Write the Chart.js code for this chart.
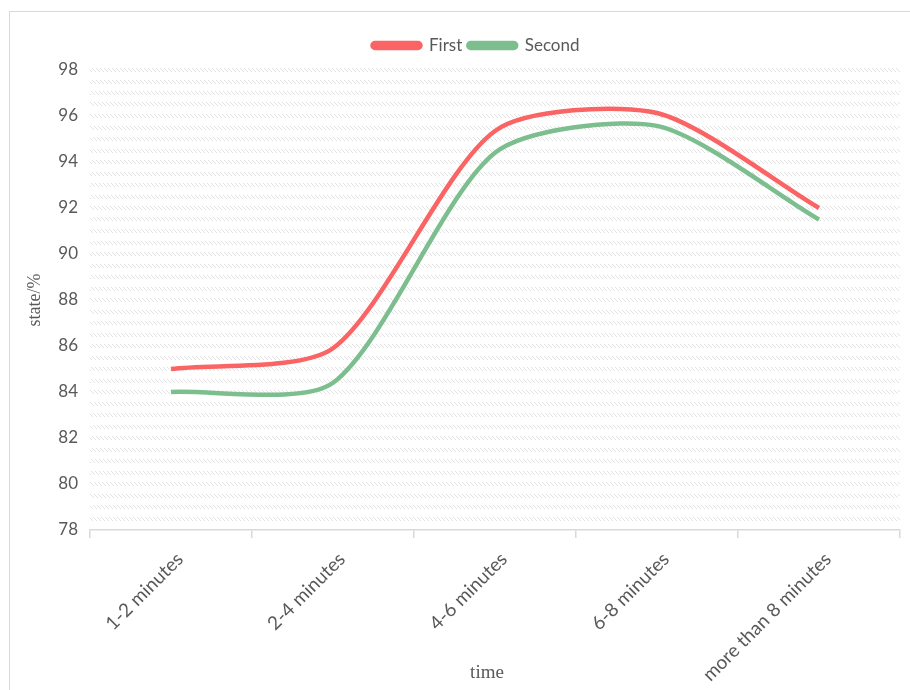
<!DOCTYPE html>
<html>
<head>
<meta charset="utf-8">
<script src="https://cdn.jsdelivr.net/npm/chart.js@4.4.1/dist/chart.umd.min.js"></script>
<style>
  html, body { margin: 0; padding: 0; background: #fff; }
  #frame { position: absolute; left: 9px; top: 11px; width: 920px; height: 700px;
           border: 1.5px solid #d9d9d9; box-sizing: border-box; }
  #c { position: absolute; left: 0; top: 0; }
</style>
</head>
<body>
<div id="frame"></div>
<canvas id="c" width="910" height="690"></canvas>
<script>
// Categories and series
const categories = ['1-2 minutes', '2-4 minutes', '4-6 minutes', '6-8 minutes', 'more than 8 minutes'];
const firstValues = [85.0, 85.9, 95.35, 96.13, 92.0];
const secondValues = [84.0, 84.4, 94.4, 95.57, 91.5];
const yTickLabels = [78, 80, 82, 84, 86, 88, 90, 92, 94, 96, 98];

const textColor = '#595959';
const lineGrey = '#d9d9d9';

// Diagonal hatch used for the horizontal grid bands
function hatchPattern() {
  const p = document.createElement('canvas');
  p.width = 4; p.height = 4;
  const g = p.getContext('2d');
  g.strokeStyle = '#e2e2e2';
  g.lineWidth = 1;
  g.beginPath();
  g.moveTo(-1, -1); g.lineTo(5, 5);
  g.moveTo(-1, 3); g.lineTo(1, 5);
  g.moveTo(3, -1); g.lineTo(5, 1);
  g.stroke();
  return g.createPattern(p, 'repeat');
}
const hatch = hatchPattern();

// Axis titles drawn at fixed spots around the plot
const axisTitlePlugin = {
  id: 'axisTitles',
  afterDraw(chart) {
    const ctx = chart.ctx;
    const area = chart.chartArea;
    ctx.save();
    ctx.font = '19px "Liberation Serif", serif';
    ctx.fillStyle = textColor;
    ctx.textAlign = 'center';
    ctx.textBaseline = 'middle';
    ctx.fillText('time', 487, 673);
    ctx.translate(35, (area.top + area.bottom) / 2);
    ctx.rotate(-Math.PI / 2);
    ctx.font = '18px "Liberation Serif", serif';
    ctx.fillText('state/%', 0, 0);
    ctx.restore();
  }
};

// Extra room between the legend and the plot
const legendGapPlugin = {
  id: 'legendGap',
  beforeInit(chart) {
    const fit = chart.legend.fit;
    chart.legend.fit = function () {
      fit.call(this);
      this.height += 6;
    };
  }
};

new Chart(document.getElementById('c'), {
  type: 'line',
  data: {
    labels: categories,
    datasets: [
      { label: 'First', data: firstValues, borderColor: 'rgb(250,100,100)', backgroundColor: 'rgb(250,100,100)',
        borderWidth: 4.5, tension: 0.25, pointRadius: 0, fill: false },
      { label: 'Second', data: secondValues, borderColor: 'rgb(125,190,142)', backgroundColor: 'rgb(125,190,142)',
        borderWidth: 4.5, tension: 0.25, pointRadius: 0, fill: false }
    ]
  },
  options: {
    responsive: false,
    animation: false,
    layout: { padding: { left: 52, right: 10, top: 31, bottom: 0 } },
    plugins: {
      legend: {
        position: 'top',
        labels: {
          color: textColor,
          font: { family: 'Lato, "Liberation Sans", sans-serif', size: 17 },
          boxWidth: 48, boxHeight: 5, useBorderRadius: true, borderRadius: 2.5, padding: 6
        }
      },
      tooltip: { enabled: false }
    },
    scales: {
      x: {
        offset: true,
        afterFit: (scale) => { scale.height = 160; },
        grid: { offset: true, drawOnChartArea: false, drawTicks: true, tickLength: 8, color: lineGrey, lineWidth: 1.5 },
        border: { display: true, color: lineGrey, width: 1.5 },
        ticks: {
          color: textColor, maxRotation: 45, minRotation: 45, padding: 10, labelOffset: 9,
          font: { family: 'Lato, "Liberation Sans", sans-serif', size: 19 }
        }
      },
      y: {
        min: 78, max: 98,
        afterFit: (scale) => { scale.width = 38; },
        border: { display: false },
        grid: {
          drawTicks: false, lineWidth: 4,
          color: (ctx) => (ctx.tick && ctx.tick.value === 78 ? 'rgba(0,0,0,0)' : hatch)
        },
        ticks: {
          stepSize: 0.5, autoSkip: false, padding: 12, color: textColor,
          font: { family: 'Lato, "Liberation Sans", sans-serif', size: 17 },
          callback: (v) => (yTickLabels.includes(v) ? String(v) : '')
        }
      }
    }
  },
  plugins: [axisTitlePlugin, legendGapPlugin]
});
</script>
</body>
</html>
